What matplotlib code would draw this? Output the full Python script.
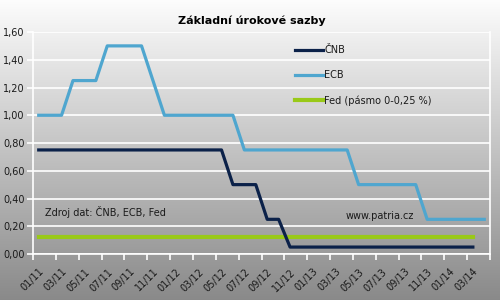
import matplotlib.pyplot as plt
import numpy as np

# monthly rates, Jan 2011 onwards
ecb = [1.00, 1.00, 1.00, 1.25, 1.25, 1.25, 1.50, 1.50, 1.50, 1.50,
       1.25, 1.00, 1.00, 1.00, 1.00, 1.00, 1.00, 1.00, 0.75, 0.75,
       0.75, 0.75, 0.75, 0.75, 0.75, 0.75, 0.75, 0.75, 0.50, 0.50,
       0.50, 0.50, 0.50, 0.50, 0.25, 0.25, 0.25, 0.25, 0.25, 0.25]
cnb = [0.75, 0.75, 0.75, 0.75, 0.75, 0.75, 0.75, 0.75, 0.75, 0.75,
       0.75, 0.75, 0.75, 0.75, 0.75, 0.75, 0.75, 0.50, 0.50, 0.50,
       0.25, 0.25, 0.05, 0.05, 0.05, 0.05, 0.05, 0.05, 0.05, 0.05,
       0.05, 0.05, 0.05, 0.05, 0.05, 0.05, 0.05, 0.05, 0.05]
fed = [0.125] * 39
month_labels = ["01/11", "03/11", "05/11", "07/11", "09/11", "11/11",
                "01/12", "03/12", "05/12", "07/12", "09/12", "11/12",
                "01/13", "03/13", "05/13", "07/13", "09/13", "11/13",
                "01/14", "03/14"]
n_months = 40

TEXT = "#1a1a1a"
FS = 7
plt.rcParams["font.family"] = "DejaVu Sans"

fig = plt.figure(figsize=(5, 3), dpi=100)

# background gradient
bg = fig.add_axes([0, 0, 1, 1], zorder=-1)
grad = np.linspace(0, 1, 300).reshape(-1, 1)
top, bottom = np.array([0.99, 0.99, 0.99]), np.array([0.54, 0.54, 0.54])
img = top + (bottom - top) * grad[:, :, None]
bg.imshow(img, aspect="auto", extent=[0, 1, 0, 1])
bg.axis("off")

ax = fig.add_axes([0.066, 0.1533, 0.914, 0.74])
ax.set_facecolor("none")

x_ecb = np.arange(len(ecb)) + 0.5
x_cnb = np.arange(len(cnb)) + 0.5
x_fed = np.arange(len(fed)) + 0.5

ax.plot(x_cnb, cnb, color="#0b2149", lw=2.3, label="ČNB", zorder=4)
ax.plot(x_ecb, ecb, color="#4fa6cf", lw=2.3, label="ECB", zorder=3)
ax.plot(x_fed, fed, color="#99c918", lw=3, label="Fed (pásmo 0-0,25 %)", zorder=3)

ax.set_xlim(0, n_months)
ax.set_ylim(0, 1.6)
ax.set_yticks(np.arange(0, 1.61, 0.2))
ax.set_yticklabels([f"{v:.2f}".replace(".", ",") for v in np.arange(0, 1.61, 0.2)])
ax.grid(axis="y", color="white", lw=1.2, zorder=1)
ax.set_axisbelow(True)

# ticks at category boundaries, labels at category centres
ax.set_xticks(np.arange(0, n_months + 1, 2))
ax.set_xticklabels([])
ax.set_xticks(np.arange(0, n_months - 1, 2) + 0.5, minor=True)
ax.set_xticklabels(month_labels, minor=True, rotation=45, ha="right",
                   rotation_mode="anchor", fontsize=FS, color=TEXT)
ax.tick_params(axis="x", which="major", color="white", width=1.2, length=4, direction="out")
ax.tick_params(axis="x", which="minor", length=0, pad=9)
ax.tick_params(axis="y", color="white", width=1.2, length=4, labelsize=FS,
               labelcolor=TEXT, pad=2)

for s in ["left", "bottom", "right"]:
    ax.spines[s].set_color("white")
    ax.spines[s].set_linewidth(1.2)
ax.spines["top"].set_visible(False)

ax.legend(loc="upper left", bbox_to_anchor=(295 / 500, 1 - 45 / 300),
          bbox_transform=fig.transFigure, frameon=False, fontsize=FS,
          handlelength=2.9, handletextpad=0.1, labelspacing=1.55,
          borderpad=0, borderaxespad=0, labelcolor=TEXT)

fig.text(0.504, 1 - 21 / 300, "Základní úrokové sazby", ha="center", va="center",
         fontsize=8, fontweight="bold", color="black")
fig.text(45 / 500, 1 - 212 / 300, "Zdroj dat: ČNB, ECB, Fed", ha="left", va="center",
         fontsize=FS, color=TEXT)
fig.text(346 / 500, 1 - 216 / 300, "www.patria.cz", ha="left", va="center",
         fontsize=FS, color=TEXT)

fig.savefig("out.png", dpi=100)
